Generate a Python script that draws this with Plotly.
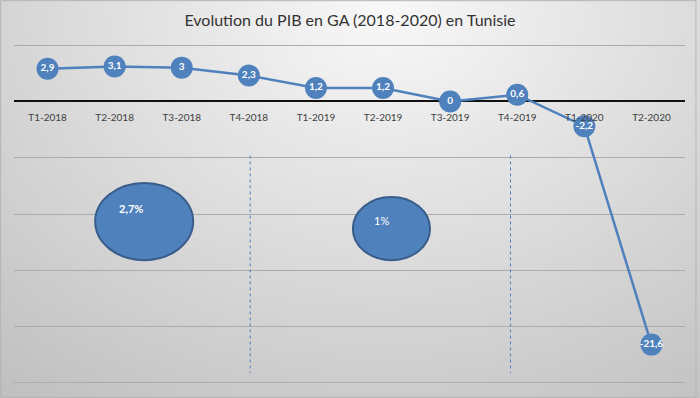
import base64, struct, zlib
import plotly.graph_objects as go

# ---- data ----
categories = ["T1-2018", "T2-2018", "T3-2018", "T4-2018", "T1-2019",
              "T2-2019", "T3-2019", "T4-2019", "T1-2020", "T2-2020"]
pib_ga = [2.9, 3.1, 3.0, 2.3, 1.2, 1.2, 0.0, 0.6, -2.2, -21.6]
year_labels = ["2,7%", "1%"]
separator_x = [3.02, 6.9]
y_lo, y_hi = -25.1, 5.1

def fmt(v):
    return ("%g" % v).replace(".", ",")

labels = [fmt(v) for v in pib_ga]
xs = list(range(len(categories)))

W, H = 700, 398
ml, mr, mt, mb = 14, 15, 44, 14
pw, ph = W - ml - mr, H - mt - mb

# ---- background gradient image (style only) ----
def make_png(w, h):
    rows = []
    for j in range(h):
        v = j / (h - 1)
        row = bytearray()
        for i in range(w):
            u = i / (w - 1)
            d = (((u - 0.55) / 0.75) ** 2 + ((v - 0.02) / 1.05) ** 2) ** 0.5
            c = int(max(190, min(249, 249 - 48 * d)))
            row += bytes((c, c, c))
        rows.append(b"\x00" + bytes(row))
    raw = b"".join(rows)
    def chunk(t, data):
        c = struct.pack(">I", len(data)) + t + data
        return c + struct.pack(">I", zlib.crc32(t + data) & 0xFFFFFFFF)
    png = b"\x89PNG\r\n\x1a\n"
    png += chunk(b"IHDR", struct.pack(">IIBBBBB", w, h, 8, 2, 0, 0, 0))
    png += chunk(b"IDAT", zlib.compress(raw, 9))
    png += chunk(b"IEND", b"")
    return "data:image/png;base64," + base64.b64encode(png).decode()

bg = make_png(140, 80)

blue = "#4F81BD"
fig = go.Figure()
fig.add_trace(go.Scatter(
    x=xs, y=pib_ga, mode="lines+markers+text",
    line=dict(color=blue, width=2.5),
    marker=dict(size=22, color=blue, line=dict(width=0)),
    text=labels, textposition="middle center",
    textfont=dict(family="Lato", size=10, color="white", weight="bold"),
    cliponaxis=False, hoverinfo="skip", showlegend=False,
))

shapes = []
# dashed separators
for b in separator_x:
    shapes.append(dict(type="line", xref="x", yref="y", x0=b, x1=b, y0=-4.8, y1=-24.1,
                       line=dict(color=blue, width=1, dash="dot")))
# year-average ellipses
ell = [(0.71, 2.17, -14.1, -7.25), (4.55, 5.70, -14.1, -8.5)]
for x0, x1, y0, y1 in ell:
    shapes.append(dict(type="circle", xref="x", yref="y", x0=x0, x1=x1, y0=y0, y1=y1,
                       fillcolor=blue, line=dict(color="#385D8A", width=2)))
# border
shapes.append(dict(type="rect", xref="paper", yref="paper",
                   x0=-ml / pw + 0.001, x1=(pw + mr) / pw - 0.006, y0=-mb / ph + 0.002,
                   y1=(ph + mt) / ph - 0.002,
                   line=dict(color="#b5b5b5", width=1), layer="above"))

annotations = [
    dict(x=1.24, y=-9.55, text=year_labels[0], showarrow=False, xref="x", yref="y",
         font=dict(family="Lato", size=11, color="white", weight="bold")),
    dict(x=4.97, y=-10.6, text=year_labels[1], showarrow=False, xref="x", yref="y",
         font=dict(family="Lato", size=11, color="white")),
]

fig.update_layout(
    width=W, height=H,
    margin=dict(l=ml, r=mr, t=mt, b=mb, pad=0),
    paper_bgcolor="#dcdcdc", plot_bgcolor="rgba(0,0,0,0)",
    title=dict(text="Evolution du PIB en GA (2018-2020) en Tunisie",
               x=0.5, xanchor="center", y=1 - 20 / H, yanchor="middle",
               font=dict(family="Lato", size=16, color="#333333")),
    xaxis=dict(range=[-0.5, len(categories) - 0.5], anchor="free",
               tickmode="array", tickvals=xs, ticktext=categories,
               position=(0 - y_lo) / (y_hi - y_lo), showgrid=False, showline=False, ticks="",
               ticklabelstandoff=9,
               tickfont=dict(family="Lato", size=10, color="#404040"), zeroline=False),
    yaxis=dict(range=[y_lo, y_hi], tickmode="array", tickvals=[5, 0, -5, -10, -15, -20, -25],
               showticklabels=False, showgrid=True,
               gridcolor="#acacac", gridwidth=1,
               zeroline=True, zerolinecolor="#111111", zerolinewidth=2),
    shapes=shapes, annotations=annotations,
    images=[dict(source=bg, xref="paper", yref="paper", x=-ml / pw, y=(ph + mt) / ph,
                 sizex=W / pw, sizey=H / ph, sizing="stretch", layer="below",
                 xanchor="left", yanchor="top")],
    font=dict(family="Lato"),
)

fig.write_html("out.html", config={"displayModeBar": False},
               post_script="document.body.style.margin='0';document.body.style.overflow='hidden';")
